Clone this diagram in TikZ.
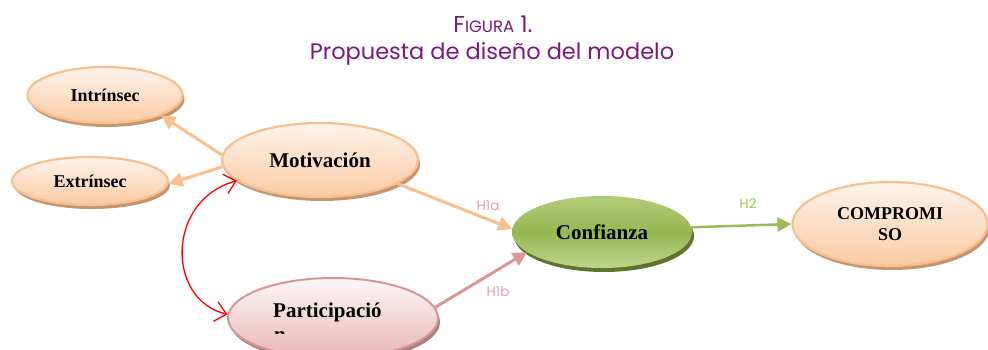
\documentclass[tikz,border=0pt]{standalone}
\usepackage{fontspec}
\setmainfont{Liberation Serif}
\newfontfamily\titlefont{Poppins}
\usetikzlibrary{shapes.geometric,arrows.meta,shadows}
\definecolor{peachB}{RGB}{249,191,143}
\definecolor{peachTop}{RGB}{254,244,236}
\definecolor{peachBot}{RGB}{250,202,162}
\definecolor{peachSh}{RGB}{196,150,112}
\definecolor{pinkB}{RGB}{217,150,148}
\definecolor{pinkTop}{RGB}{253,247,247}
\definecolor{pinkBot}{RGB}{232,182,182}
\definecolor{pinkSh}{RGB}{168,130,128}
\definecolor{greenTop}{RGB}{178,204,120}
\definecolor{greenMid}{RGB}{150,184,82}
\definecolor{greenBot}{RGB}{190,214,140}
\definecolor{greenSh}{RGB}{95,115,45}
\definecolor{arrG}{RGB}{155,187,89}
\definecolor{lblRose}{RGB}{225,160,170}
\definecolor{lblGreen}{RGB}{150,205,90}
\definecolor{titleC}{RGB}{125,25,125}
\tikzset{
  ell/.style={ellipse, inner sep=0pt, align=center, font=\bfseries\fontsize{18}{21}\selectfont},
  big/.style={font=\bfseries\fontsize{21}{23}\selectfont},
  peachE/.style={ell, draw=peachB, line width=2.2pt, top color=peachTop, bottom color=peachBot,
    drop shadow={shadow xshift=2pt, shadow yshift=-4pt, fill=peachSh, opacity=1}},
  pinkE/.style={ell, draw=pinkB, line width=2pt, top color=pinkTop, bottom color=pinkBot,
    drop shadow={shadow xshift=2pt, shadow yshift=-4pt, fill=pinkSh, opacity=1}},
  greenE/.style={ell, top color=greenTop, bottom color=greenBot, middle color=greenMid,
    drop shadow={shadow xshift=2pt, shadow yshift=-4pt, fill=greenSh, opacity=1}},
  parr/.style={draw=peachB, line width=3pt, -{Triangle[length=14pt,width=14pt]}},
  rarr/.style={draw=pinkB, line width=3pt, -{Triangle[length=14pt,width=14pt]}},
  garr/.style={draw=arrG, line width=2.5pt, -{Triangle[length=14pt,width=14pt]}},
  redarr/.style={draw=red, line width=1.3pt, {Straight Barb[length=11pt,width=20pt]}-{Straight Barb[length=11pt,width=20pt]}},
  hlbl/.style={font=\titlefont\fontsize{13.5}{15}\selectfont},
  title/.style={font=\titlefont, text=titleC, inner sep=0pt}
}
\begin{document}
\begin{tikzpicture}[x=1pt,y=-1pt]
\useasboundingbox (0,0) rectangle (988,349);
\clip (0,0) rectangle (988,349);
% title
\node[title] (t1) at (493,24) {\fontsize{23}{25}\selectfont F{\fontsize{16.5}{18}\selectfont IGURA} 1.};
\node[title] (t2) at (492,54) {\fontsize{22.5}{25}\selectfont Propuesta de diseño del modelo};
% nodes
\node[peachE, minimum width=155pt, minimum height=56pt] (int) at (105,95) {Intrínsec};
\node[peachE, minimum width=156pt, minimum height=48pt] (ext) at (90,181) {Extrínsec};
\node[peachE, big, minimum width=196pt, minimum height=74pt] (mot) at (320,160) {Motivación};
\node[pinkE, minimum width=210pt, minimum height=80pt] (part) at (333,318) {};
\node[big, anchor=base west, inner sep=0pt] (partT) at (273,317) {Participació};
\begin{scope}
  \clip (250,300) rectangle (400,333);
  \node[big, anchor=base west, inner sep=0pt] (partN) at (274,341) {n};
\end{scope}
\node[greenE, big, minimum width=180pt, minimum height=72pt] (conf) at (602,232) {Confianza};
\node[peachE, minimum width=195pt, minimum height=84pt] (comp) at (890,224) {COMPROMI\\SO};
% connectors
\draw[parr] (mot.177) -- (int.340);
\draw[parr] (mot.184) -- (ext.358);
\draw[parr] (mot.343) -- (conf.178);
\draw[rarr] (part.6) -- (conf.195);
\draw[garr] (conf.3) -- (comp.west);
\draw[redarr] (mot.194) .. controls (166,200) and (166,300) .. (part.178);
% labels
\node[hlbl, text=lblRose] (h1a) at (488,206) {H1a};
\node[hlbl, text=lblRose] (h1b) at (498,292) {H1b};
\node[hlbl, text=lblGreen] (h2) at (748,204) {H2};
\end{tikzpicture}
\end{document}
